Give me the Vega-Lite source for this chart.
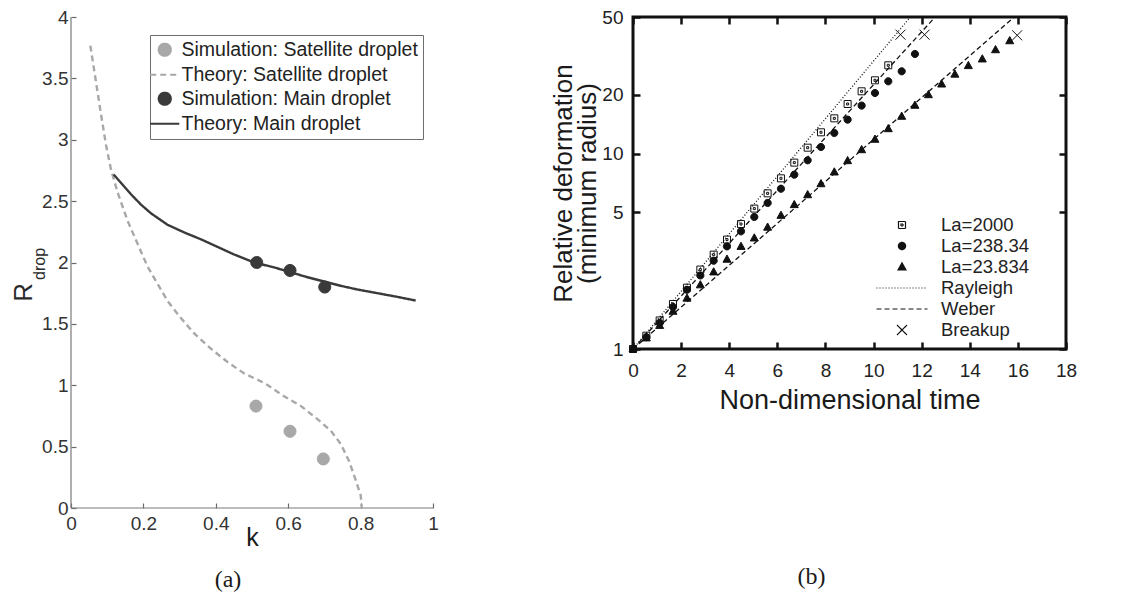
{
"$schema": "https://vega.github.io/schema/vega-lite/v6.json",
"background": "white",
"padding": {"left": 10, "top": 6, "right": 5, "bottom": 5},
"config": {
  "font": "Liberation Sans",
  "view": {"stroke": null},
  "axis": {"grid": false, "ticks": true, "labelFont": "Liberation Sans", "titleFont": "Liberation Sans", "titleFontWeight": "normal", "labelFlush": false, "labelOverlap": false},
  "legend": {"labelFont": "Liberation Sans"},
  "title": {"font": "Liberation Serif", "fontWeight": "normal"}
},
"resolve": {"scale": {"stroke": "independent", "strokeDash": "independent", "shape": "independent", "fill": "independent"}, "legend": {"stroke": "independent", "strokeDash": "independent", "shape": "independent", "fill": "independent"}},
"datasets": {
  "theoryA": [
    {"k":0.0534,"R":3.767,"series":"Theory: Satellite droplet"},
    {"k":0.069,"R":3.472,"series":"Theory: Satellite droplet"},
    {"k":0.0828,"R":3.208,"series":"Theory: Satellite droplet"},
    {"k":0.0966,"R":2.96,"series":"Theory: Satellite droplet"},
    {"k":0.1104,"R":2.758,"series":"Theory: Satellite droplet"},
    {"k":0.1288,"R":2.571,"series":"Theory: Satellite droplet"},
    {"k":0.1564,"R":2.339,"series":"Theory: Satellite droplet"},
    {"k":0.184,"R":2.152,"series":"Theory: Satellite droplet"},
    {"k":0.2116,"R":1.966,"series":"Theory: Satellite droplet"},
    {"k":0.2392,"R":1.826,"series":"Theory: Satellite droplet"},
    {"k":0.2668,"R":1.686,"series":"Theory: Satellite droplet"},
    {"k":0.3036,"R":1.547,"series":"Theory: Satellite droplet"},
    {"k":0.3404,"R":1.422,"series":"Theory: Satellite droplet"},
    {"k":0.3864,"R":1.298,"series":"Theory: Satellite droplet"},
    {"k":0.4324,"R":1.189,"series":"Theory: Satellite droplet"},
    {"k":0.4784,"R":1.096,"series":"Theory: Satellite droplet"},
    {"k":0.5336,"R":1.019,"series":"Theory: Satellite droplet"},
    {"k":0.5888,"R":0.91,"series":"Theory: Satellite droplet"},
    {"k":0.6348,"R":0.832,"series":"Theory: Satellite droplet"},
    {"k":0.6808,"R":0.724,"series":"Theory: Satellite droplet"},
    {"k":0.7176,"R":0.63,"series":"Theory: Satellite droplet"},
    {"k":0.7452,"R":0.522,"series":"Theory: Satellite droplet"},
    {"k":0.7682,"R":0.382,"series":"Theory: Satellite droplet"},
    {"k":0.7866,"R":0.227,"series":"Theory: Satellite droplet"},
    {"k":0.8004,"R":0.102,"series":"Theory: Satellite droplet"},
    {"k":0.8031,"R":0.0,"series":"Theory: Satellite droplet"},
    {"k":0.1178,"R":2.717,"series":"Theory: Main droplet"},
    {"k":0.138,"R":2.649,"series":"Theory: Main droplet"},
    {"k":0.1656,"R":2.556,"series":"Theory: Main droplet"},
    {"k":0.1932,"R":2.472,"series":"Theory: Main droplet"},
    {"k":0.2208,"R":2.401,"series":"Theory: Main droplet"},
    {"k":0.2668,"R":2.307,"series":"Theory: Main droplet"},
    {"k":0.3174,"R":2.239,"series":"Theory: Main droplet"},
    {"k":0.3588,"R":2.189,"series":"Theory: Main droplet"},
    {"k":0.4048,"R":2.127,"series":"Theory: Main droplet"},
    {"k":0.4508,"R":2.065,"series":"Theory: Main droplet"},
    {"k":0.506,"R":2.0,"series":"Theory: Main droplet"},
    {"k":0.5612,"R":1.96,"series":"Theory: Main droplet"},
    {"k":0.6072,"R":1.92,"series":"Theory: Main droplet"},
    {"k":0.6532,"R":1.88,"series":"Theory: Main droplet"},
    {"k":0.6992,"R":1.845,"series":"Theory: Main droplet"},
    {"k":0.7452,"R":1.81,"series":"Theory: Main droplet"},
    {"k":0.7912,"R":1.78,"series":"Theory: Main droplet"},
    {"k":0.8464,"R":1.75,"series":"Theory: Main droplet"},
    {"k":0.9016,"R":1.72,"series":"Theory: Main droplet"},
    {"k":0.9522,"R":1.69,"series":"Theory: Main droplet"}
  ],
  "simA": [
    {"k":0.511,"R":0.83,"series":"Simulation: Satellite droplet"},
    {"k":0.605,"R":0.625,"series":"Simulation: Satellite droplet"},
    {"k":0.697,"R":0.4,"series":"Simulation: Satellite droplet"},
    {"k":0.513,"R":2.0,"series":"Simulation: Main droplet"},
    {"k":0.605,"R":1.935,"series":"Simulation: Main droplet"},
    {"k":0.701,"R":1.8,"series":"Simulation: Main droplet"}
  ],
  "linesB": [
    {"t":0,"v":1,"series":"Rayleigh","curve":"r"},
    {"t":11.53,"v":50,"series":"Rayleigh","curve":"r"},
    {"t":0,"v":1,"series":"Weber","curve":"w1"},
    {"t":12.56,"v":50,"series":"Weber","curve":"w1"},
    {"t":0,"v":1,"series":"Weber","curve":"w2"},
    {"t":15.85,"v":50,"series":"Weber","curve":"w2"}
  ],
  "pointsB": [
    {"t":0,"v":1,"series":"La=2000"},
    {"t":0.554,"v":1.17,"series":"La=2000"},
    {"t":1.108,"v":1.4,"series":"La=2000"},
    {"t":1.662,"v":1.7,"series":"La=2000"},
    {"t":2.244,"v":2.06,"series":"La=2000"},
    {"t":2.799,"v":2.55,"series":"La=2000"},
    {"t":3.353,"v":3.04,"series":"La=2000"},
    {"t":3.907,"v":3.63,"series":"La=2000"},
    {"t":4.489,"v":4.36,"series":"La=2000"},
    {"t":5.043,"v":5.23,"series":"La=2000"},
    {"t":5.597,"v":6.26,"series":"La=2000"},
    {"t":6.151,"v":7.47,"series":"La=2000"},
    {"t":6.705,"v":8.99,"series":"La=2000"},
    {"t":7.26,"v":10.72,"series":"La=2000"},
    {"t":7.814,"v":12.85,"series":"La=2000"},
    {"t":8.368,"v":15.15,"series":"La=2000"},
    {"t":8.922,"v":17.94,"series":"La=2000"},
    {"t":9.504,"v":20.83,"series":"La=2000"},
    {"t":10.058,"v":23.71,"series":"La=2000"},
    {"t":10.612,"v":28.3,"series":"La=2000"},
    {"t":0,"v":1,"series":"La=238.34"},
    {"t":0.554,"v":1.15,"series":"La=238.34"},
    {"t":1.108,"v":1.36,"series":"La=238.34"},
    {"t":1.662,"v":1.64,"series":"La=238.34"},
    {"t":2.244,"v":2.01,"series":"La=238.34"},
    {"t":2.799,"v":2.38,"series":"La=238.34"},
    {"t":3.353,"v":2.83,"series":"La=238.34"},
    {"t":3.907,"v":3.35,"series":"La=238.34"},
    {"t":4.489,"v":4.0,"series":"La=238.34"},
    {"t":5.043,"v":4.74,"series":"La=238.34"},
    {"t":5.597,"v":5.59,"series":"La=238.34"},
    {"t":6.151,"v":6.61,"series":"La=238.34"},
    {"t":6.705,"v":7.8,"series":"La=238.34"},
    {"t":7.26,"v":9.24,"series":"La=238.34"},
    {"t":7.814,"v":10.81,"series":"La=238.34"},
    {"t":8.368,"v":12.75,"series":"La=238.34"},
    {"t":8.922,"v":14.92,"series":"La=238.34"},
    {"t":9.504,"v":17.6,"series":"La=238.34"},
    {"t":10.058,"v":20.42,"series":"La=238.34"},
    {"t":10.612,"v":23.44,"series":"La=238.34"},
    {"t":11.17,"v":26.37,"series":"La=238.34"},
    {"t":11.72,"v":32.34,"series":"La=238.34"},
    {"t":0,"v":1,"series":"La=23.834"},
    {"t":0.554,"v":1.14,"series":"La=23.834"},
    {"t":1.108,"v":1.32,"series":"La=23.834"},
    {"t":1.662,"v":1.56,"series":"La=23.834"},
    {"t":2.244,"v":1.82,"series":"La=23.834"},
    {"t":2.799,"v":2.13,"series":"La=23.834"},
    {"t":3.353,"v":2.48,"series":"La=23.834"},
    {"t":3.907,"v":2.88,"series":"La=23.834"},
    {"t":4.489,"v":3.35,"series":"La=23.834"},
    {"t":5.043,"v":3.7,"series":"La=23.834"},
    {"t":5.597,"v":4.2,"series":"La=23.834"},
    {"t":6.151,"v":4.83,"series":"La=23.834"},
    {"t":6.705,"v":5.48,"series":"La=23.834"},
    {"t":7.26,"v":6.16,"series":"La=23.834"},
    {"t":7.814,"v":7.01,"series":"La=23.834"},
    {"t":8.368,"v":8.05,"series":"La=23.834"},
    {"t":8.922,"v":9.2,"series":"La=23.834"},
    {"t":9.504,"v":10.47,"series":"La=23.834"},
    {"t":10.058,"v":11.84,"series":"La=23.834"},
    {"t":10.612,"v":13.41,"series":"La=23.834"},
    {"t":11.17,"v":15.52,"series":"La=23.834"},
    {"t":11.72,"v":17.67,"series":"La=23.834"},
    {"t":12.28,"v":20.02,"series":"La=23.834"},
    {"t":12.83,"v":22.7,"series":"La=23.834"},
    {"t":13.38,"v":25.5,"series":"La=23.834"},
    {"t":13.94,"v":28.2,"series":"La=23.834"},
    {"t":14.52,"v":30.5,"series":"La=23.834"},
    {"t":15.07,"v":34.0,"series":"La=23.834"},
    {"t":15.66,"v":37.8,"series":"La=23.834"},
    {"t":11.12,"v":40.6,"series":"Breakup"},
    {"t":12.12,"v":40.6,"series":"Breakup"},
    {"t":15.97,"v":40.3,"series":"Breakup"}
  ]
},
"spacing": 110,
"hconcat": [
  {
    "width": 362,
    "height": 491,
    "title": {"text": "(a)", "orient": "bottom", "fontSize": 24, "color": "#1a1a1a", "offset": 18, "dx": -24, "anchor": "middle", "frame": "group"},
    "layer": [
      {
        "data": {"values": [{}]},
        "mark": {"type": "rule", "color": "#7a7a7a", "strokeWidth": 1.2},
        "encoding": {"x": {"datum": 0, "type": "quantitative"}, "y": {"datum": 0, "type": "quantitative"}, "y2": {"datum": 4}}
      },
      {
        "data": {"values": [{}]},
        "mark": {"type": "rule", "color": "#7a7a7a", "strokeWidth": 1.2},
        "encoding": {"x": {"datum": 0, "type": "quantitative"}, "x2": {"datum": 1}, "y": {"datum": 0, "type": "quantitative"}}
      },
      {
        "data": {"name": "theoryA"},
        "mark": {"type": "line", "strokeWidth": 2.4},
        "encoding": {
          "x": {"field": "k", "type": "quantitative", "scale": {"domain": [0, 1], "nice": false},
                "axis": {"values": [0, 0.2, 0.4, 0.6, 0.8, 1], "format": "~g", "title": "k", "titleFontSize": 25, "titleColor": "#1a1a1a", "titlePadding": -8, "domain": false, "offset": -5, "ticks": true, "tickColor": "#6a6a6a", "tickWidth": 1.2, "tickSize": 5, "tickOpacity": 1, "labelFontSize": 19, "labelColor": "#333", "labelPadding": 6}},
          "y": {"field": "R", "type": "quantitative", "scale": {"domain": [0, 4], "nice": false},
                "axis": {"values": [0, 0.5, 1, 1.5, 2, 2.5, 3, 3.5, 4], "format": "~g", "title": null, "domain": false, "offset": -5, "ticks": true, "tickColor": "#6a6a6a", "tickWidth": 1.2, "tickSize": 5, "tickOpacity": 1, "labelFontSize": 19, "labelColor": "#333", "labelPadding": 3}},
          "stroke": {"field": "series", "type": "nominal",
                     "scale": {"domain": ["Simulation: Satellite droplet", "Theory: Satellite droplet", "Simulation: Main droplet", "Theory: Main droplet"], "range": ["#a8a8a8", "#a8a8a8", "#3a3a3a", "#3a3a3a"]},
                     "legend": {"orient": "none", "legendX": 79, "legendY": 18, "title": null, "strokeColor": "#6e6e6e", "fillColor": "white", "padding": 5, "labelFontSize": 19.5, "labelColor": "#222", "symbolSize": 144, "symbolStrokeWidth": 2.2, "rowPadding": 3, "labelOffset": 7, "labelLimit": 400}},
          "strokeDash": {"field": "series", "type": "nominal",
                     "scale": {"domain": ["Simulation: Satellite droplet", "Theory: Satellite droplet", "Simulation: Main droplet", "Theory: Main droplet"], "range": [[1, 0], [6, 4], [1, 0], [1, 0]]},
                     "legend": {"orient": "none", "legendX": 79, "legendY": 18, "title": null, "strokeColor": "#6e6e6e", "fillColor": "white", "padding": 5, "labelFontSize": 19.5, "labelColor": "#222", "symbolSize": 144, "symbolStrokeWidth": 2.2, "rowPadding": 3, "labelOffset": 7, "labelLimit": 400}}
        }
      },
      {
        "data": {"name": "simA"},
        "mark": {"type": "point", "size": 144, "strokeWidth": 1, "opacity": 1},
        "encoding": {
          "x": {"field": "k", "type": "quantitative"},
          "y": {"field": "R", "type": "quantitative"},
          "shape": {"field": "series", "type": "nominal",
                    "scale": {"domain": ["Simulation: Satellite droplet", "Theory: Satellite droplet", "Simulation: Main droplet", "Theory: Main droplet"], "range": ["M-1,0A1,1 0 1,0 1,0A1,1 0 1,0 -1,0Z", "M-2.42,0H2.42", "M-1,0A1,1 0 1,0 1,0A1,1 0 1,0 -1,0Z", "M-2.42,0H2.42"]},
                    "legend": {"orient": "none", "legendX": 79, "legendY": 18, "title": null, "strokeColor": "#6e6e6e", "fillColor": "white", "padding": 5, "labelFontSize": 19.5, "labelColor": "#222", "symbolSize": 144, "symbolStrokeWidth": 2.2, "rowPadding": 3, "labelOffset": 7, "labelLimit": 400}},
          "fill": {"field": "series", "type": "nominal",
                   "scale": {"domain": ["Simulation: Satellite droplet", "Theory: Satellite droplet", "Simulation: Main droplet", "Theory: Main droplet"], "range": ["#a8a8a8", "transparent", "#3a3a3a", "transparent"]},
                   "legend": {"orient": "none", "legendX": 79, "legendY": 18, "title": null, "strokeColor": "#6e6e6e", "fillColor": "white", "padding": 5, "labelFontSize": 19.5, "labelColor": "#222", "symbolSize": 144, "symbolStrokeWidth": 2.2, "rowPadding": 3, "labelOffset": 7, "labelLimit": 400}},
          "stroke": {"field": "series", "type": "nominal"}
        }
      },
      {
        "data": {"values": [{}]},
        "mark": {"type": "text", "text": "R", "angle": 270, "fontSize": 26, "color": "#2a2a2a", "align": "center", "baseline": "middle"},
        "encoding": {"x": {"datum": -0.131, "type": "quantitative"}, "y": {"datum": 1.756, "type": "quantitative"}}
      },
      {
        "data": {"values": [{}]},
        "mark": {"type": "text", "text": "drop", "angle": 270, "fontSize": 16, "color": "#2a2a2a", "align": "center", "baseline": "middle"},
        "encoding": {"x": {"datum": -0.0843, "type": "quantitative"}, "y": {"datum": 1.988, "type": "quantitative"}}
      }
    ]
  },
  {
    "width": 433,
    "height": 332,
    "view": {"stroke": "#111", "strokeWidth": 3},
    "title": {"text": "(b)", "orient": "bottom", "fontSize": 24, "color": "#1a1a1a", "offset": 152, "dx": -38, "anchor": "middle", "frame": "group"},
    "layer": [
      {
        "data": {"name": "linesB"},
        "mark": {"type": "line", "strokeWidth": 1.3},
        "encoding": {
          "x": {"field": "t", "type": "quantitative", "scale": {"domain": [0, 18], "nice": false},
                "axis": {"orient": "bottom", "values": [0, 2, 4, 6, 8, 10, 12, 14, 16, 18], "format": "~g", "title": "Non-dimensional time", "titleFontSize": 27, "titleColor": "#1a1a1a", "titlePadding": 7, "domain": false, "offset": -7, "ticks": true, "tickColor": "#111", "tickWidth": 2.5, "tickSize": 7, "tickOpacity": 1, "labelFontSize": 19, "labelColor": "#222", "labelPadding": 12}},
          "y": {"field": "v", "type": "quantitative", "scale": {"type": "log", "domain": [1, 50], "nice": false},
                "axis": {"orient": "left", "values": [1, 5, 10, 20, 50], "format": "~g", "title": ["Relative deformation", "(minimum radius)"], "titleFontSize": 26, "titleLineHeight": 24, "titleColor": "#1a1a1a", "titlePadding": 1, "domain": false, "offset": -7, "ticks": true, "tickColor": "#111", "tickWidth": 2.5, "tickSize": 7, "tickOpacity": 1, "labelFontSize": 19, "labelColor": "#222", "labelPadding": 10}},
          "detail": {"field": "curve", "type": "nominal"},
          "stroke": {"field": "series", "type": "nominal",
                     "scale": {"domain": ["La=2000", "La=238.34", "La=23.834", "Rayleigh", "Weber", "Breakup"], "range": ["#111", "#111", "#111", "#111", "#111", "#111"]},
                     "legend": {"orient": "none", "legendX": 258, "legendY": 197, "title": null, "padding": 0, "labelFontSize": 18.5, "labelColor": "#222", "symbolSize": 400, "symbolStrokeWidth": 1.2, "rowPadding": 0, "labelOffset": 28, "labelLimit": 300}},
          "strokeDash": {"field": "series", "type": "nominal",
                     "scale": {"domain": ["La=2000", "La=238.34", "La=23.834", "Rayleigh", "Weber", "Breakup"], "range": [[1, 0], [1, 0], [1, 0], [1, 2], [5, 3], [1, 0]]},
                     "legend": {"orient": "none", "legendX": 258, "legendY": 197, "title": null, "padding": 0, "labelFontSize": 18.5, "labelColor": "#222", "symbolSize": 400, "symbolStrokeWidth": 1.2, "rowPadding": 0, "labelOffset": 28, "labelLimit": 300}}
        }
      },
      {
        "data": {"name": "pointsB"},
        "mark": {"type": "point", "size": 400, "strokeWidth": 1, "opacity": 1},
        "encoding": {
          "x": {"field": "t", "type": "quantitative",
                "axis": {"orient": "top", "values": [0, 2, 4, 6, 8, 10, 12, 14, 16, 18], "labels": false, "title": null, "domain": false, "offset": -7, "ticks": true, "tickColor": "#111", "tickWidth": 2.5, "tickSize": 7, "tickOpacity": 1}},
          "y": {"field": "v", "type": "quantitative",
                "axis": {"orient": "right", "values": [1, 5, 10, 20, 50], "labels": false, "title": null, "domain": false, "offset": -7, "ticks": true, "tickColor": "#111", "tickWidth": 2.5, "tickSize": 7, "tickOpacity": 1}},
          "shape": {"field": "series", "type": "nominal",
                    "scale": {"domain": ["La=2000", "La=238.34", "La=23.834", "Rayleigh", "Weber", "Breakup"], "range": ["M-0.35,-0.35H0.35V0.35H-0.35ZM-0.1,-0.1H0.1V0.1H-0.1Z", "M-0.36,0A0.36,0.36 0 1,0 0.36,0A0.36,0.36 0 1,0 -0.36,0Z", "M0,-0.42L0.4,0.3L-0.4,0.3Z", "M-2.55,0H2.55", "M-2.55,0H2.55", "M-0.5,-0.5L0.5,0.5M-0.5,0.5L0.5,-0.5"]},
                    "legend": {"orient": "none", "legendX": 258, "legendY": 197, "title": null, "padding": 0, "labelFontSize": 18.5, "labelColor": "#222", "symbolSize": 400, "symbolStrokeWidth": 1.2, "rowPadding": 0, "labelOffset": 28, "labelLimit": 300}},
          "fill": {"field": "series", "type": "nominal",
                   "scale": {"domain": ["La=2000", "La=238.34", "La=23.834", "Rayleigh", "Weber", "Breakup"], "range": ["transparent", "#111", "#111", "transparent", "transparent", "transparent"]},
                   "legend": {"orient": "none", "legendX": 258, "legendY": 197, "title": null, "padding": 0, "labelFontSize": 18.5, "labelColor": "#222", "symbolSize": 400, "symbolStrokeWidth": 1.2, "rowPadding": 0, "labelOffset": 28, "labelLimit": 300}},
          "stroke": {"field": "series", "type": "nominal"}
        }
      }
    ],
    "resolve": {"axis": {"x": "independent", "y": "independent"}}
  }
]
}
